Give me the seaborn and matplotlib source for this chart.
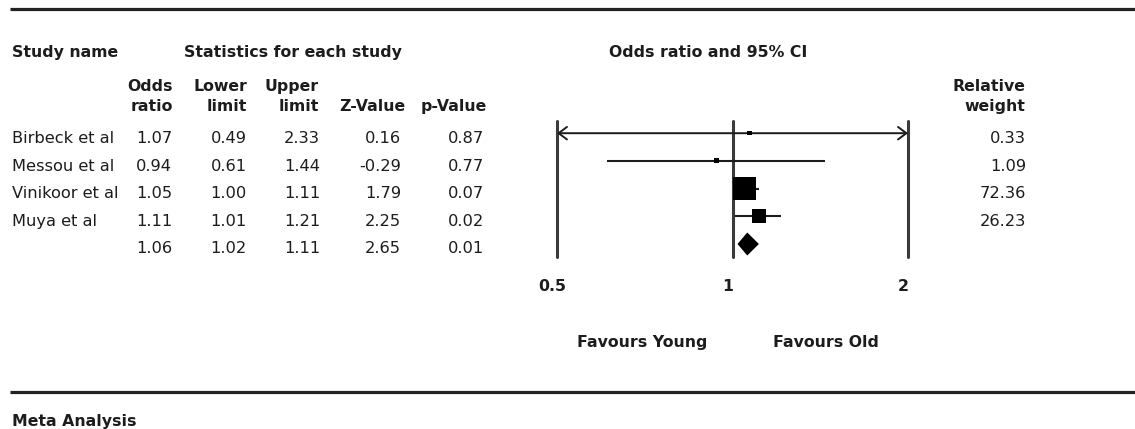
import matplotlib
matplotlib.use("Agg")
import matplotlib.pyplot as plt
from matplotlib.transforms import ScaledTranslation
import numpy as np
import pandas as pd
import seaborn as sns

# ---- study data ----
studies = ["Birbeck et al", "Messou et al", "Vinikoor et al", "Muya et al"]
odds_ratio = [1.07, 0.94, 1.05, 1.11, 1.06]   # last entry = pooled estimate
lower_limit = [0.49, 0.61, 1.00, 1.01, 1.02]
upper_limit = [2.33, 1.44, 1.11, 1.21, 1.11]
z_value = [0.16, -0.29, 1.79, 2.25, 2.65]
p_value = [0.87, 0.77, 0.07, 0.02, 0.01]
rel_weight = [0.33, 1.09, 72.36, 26.23]
axis_ticks = [0.5, 1, 2]
axis_labels = ["0.5", "1", "2"]

sns.set_theme(style="white")
plt.rcParams["font.family"] = ["DejaVu Sans"]

W, H = 1135, 429
fig = plt.figure(figsize=(W / 100, H / 100), dpi=100)
fig.patch.set_facecolor("white")

# full-figure layer in pixel units for the table text and rules
ax_tab = fig.add_axes([0, 0, 1, 1])
ax_tab.set_xlim(0, W)
ax_tab.set_ylim(H, 0)
ax_tab.axis("off")

INK = "#1c1c1c"
REG = dict(fontsize=11.7, color=INK)
BOLD = dict(fontsize=11.3, color=INK, fontweight="bold")

# horizontal rules
ax_tab.hlines([9, 392], 10, W, color="#222222", lw=2.3)

# headers
ax_tab.text(12, 57, "Study name", ha="left", va="baseline", **BOLD)
ax_tab.text(184, 57, "Statistics for each study", ha="left", va="baseline", **BOLD)
ax_tab.text(708, 57, "Odds ratio and 95% CI", ha="center", va="baseline", **BOLD)

col_heads = [("Odds", "ratio", 173), ("Lower", "limit", 247),
             ("Upper", "limit", 319), ("", "Z-Value", 405),
             ("", "p-Value", 487), ("Relative", "weight", 1025)]
for top, bottom, xr in col_heads:
    if top:
        ax_tab.text(xr, 91, top, ha="right", va="baseline", **BOLD)
    ax_tab.text(xr, 111, bottom, ha="right", va="baseline", **BOLD)

# table rows
row_base, row_step = 143, 27.6
value_cols = [(odds_ratio, 172), (lower_limit, 247), (upper_limit, 320),
              (z_value, 401), (p_value, 484)]
n_rows = len(odds_ratio)
for i in range(n_rows):
    yb = row_base + i * row_step
    if i < len(studies):
        ax_tab.text(12, yb, studies[i], ha="left", va="baseline", **REG)
        ax_tab.text(1026, yb, f"{rel_weight[i]:.2f}", ha="right", va="baseline", **REG)
    for vals, xr in value_cols:
        ax_tab.text(xr, yb, f"{vals[i]:.2f}", ha="right", va="baseline", **REG)

ax_tab.text(642, 347, "Favours Young", ha="center", va="baseline", **BOLD)
ax_tab.text(826, 347, "Favours Old", ha="center", va="baseline", **BOLD)
ax_tab.text(12, 426, "Meta Analysis", ha="left", va="baseline", **BOLD)

# ---- forest plot ----
x_left, x_right, y_top, y_bot = 557, 908, 121, 257
mark_y0, mark_step = 133.2, 27.7
axf = fig.add_axes([x_left / W, (H - y_bot) / H,
                    (x_right - x_left) / W, (y_bot - y_top) / H])
axf.patch.set_alpha(0)
axf.set_xscale("log", base=2)

xmin, xmax = axis_ticks[0], axis_ticks[-1]
for v in axis_ticks:
    axf.axvline(v, color="#3a3a3a", lw=2.2, clip_on=False, zorder=1)

n_st = len(studies)
for i in range(n_st):
    lo, hi = lower_limit[i], upper_limit[i]
    lo_c, hi_c = max(lo, xmin), min(hi, xmax)
    if lo < xmin or hi > xmax:
        style = ("<" if lo < xmin else "") + "-" + (">" if hi > xmax else "")
        axf.annotate("", xy=(hi_c, i), xytext=(lo_c, i),
                     arrowprops=dict(arrowstyle=f"{style},head_length=0.6,head_width=0.45",
                                     lw=1.4, color=INK, shrinkA=0, shrinkB=0,
                                     mutation_scale=10),
                     annotation_clip=False, zorder=2)
    else:
        axf.hlines(i, lo_c, hi_c, color=INK, lw=1.5, zorder=2)

df = pd.DataFrame({"odds": odds_ratio[:n_st], "row": np.arange(n_st),
                   "weight": rel_weight})
sns.scatterplot(data=df, x="odds", y="row", size="weight",
                sizes=(8.3, 274), size_norm=(0, max(rel_weight)),
                marker="s", color="black", linewidth=0, legend=False,
                ax=axf, zorder=3)

# pooled estimate diamond
pr = n_st
half_h = 11.5 / mark_step
axf.fill([lower_limit[pr], odds_ratio[pr], upper_limit[pr], odds_ratio[pr]],
         [pr, pr - half_h, pr, pr + half_h], color="black", lw=0, zorder=3)

axf.set_xlim(xmin, xmax)
axf.set_ylim((y_bot - mark_y0) / mark_step, (y_top - mark_y0) / mark_step)
axf.set_xlabel("")
axf.set_ylabel("")
axf.set_yticks([])
axf.set_xticks(axis_ticks)
axf.set_xticklabels(axis_labels, fontsize=11.3, fontweight="bold", color=INK)
axf.minorticks_off()
axf.tick_params(axis="x", length=0, pad=16)
for lab in axf.get_xticklabels():
    lab.set_transform(lab.get_transform() + ScaledTranslation(-5 / 100, 0, fig.dpi_scale_trans))
for s in axf.spines.values():
    s.set_visible(False)

fig.savefig("out.png", dpi=100, facecolor="white")
